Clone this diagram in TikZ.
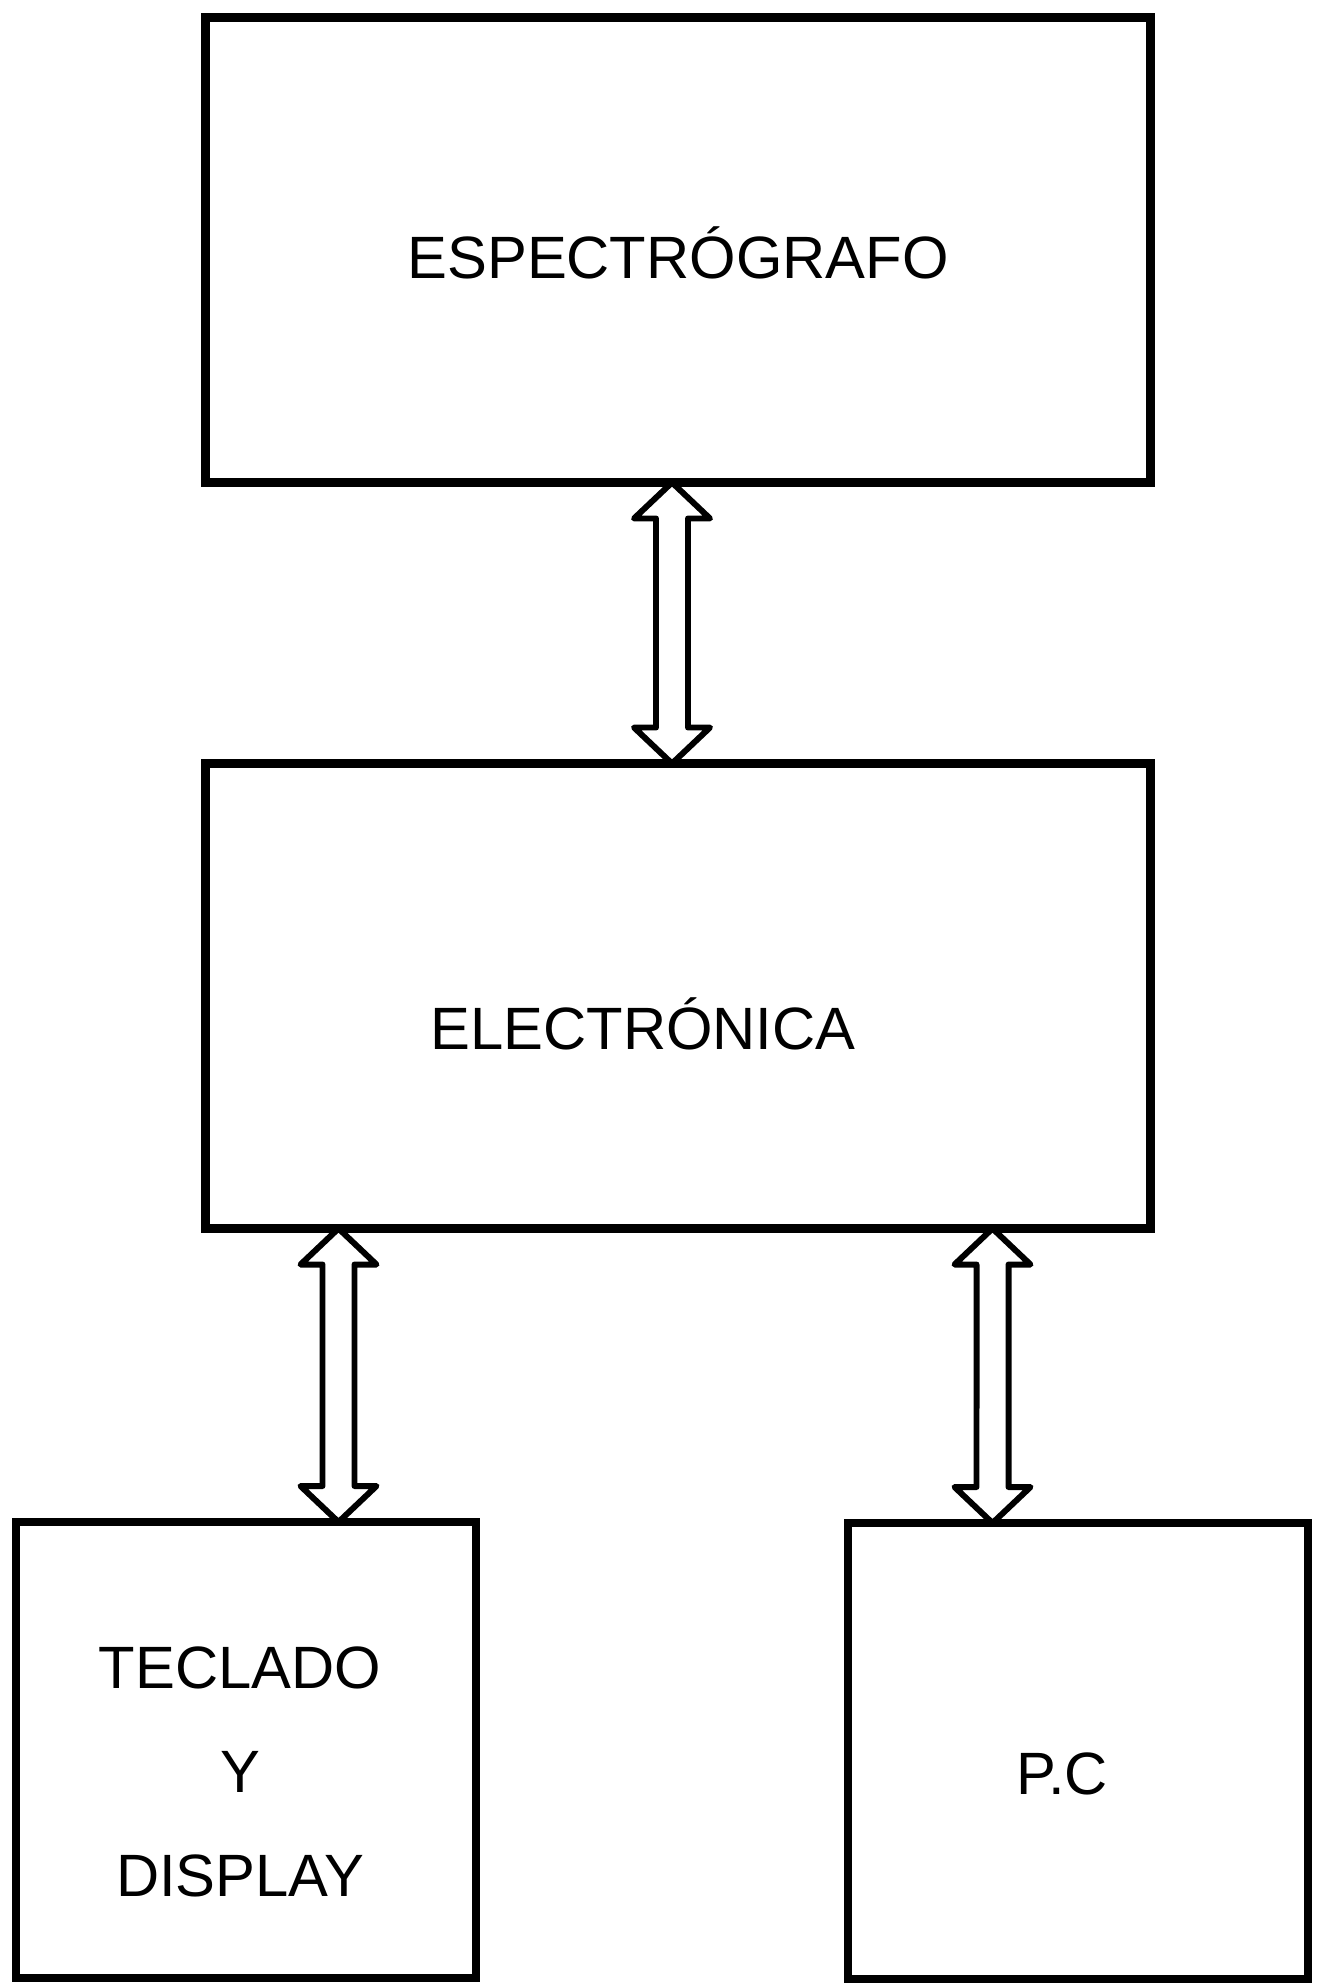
\documentclass[tikz,border=0pt]{standalone}
\usepackage{fontspec}
\setmainfont{Liberation Sans}
\usetikzlibrary{positioning, calc}

\tikzset{
  block/.style={rectangle, draw, line width=4.6pt, minimum width=18.9cm,
                minimum height=9.3cm, inner sep=0pt, outer sep=0pt},
  smallblock/.style={block, minimum width=9.2cm, minimum height=9.12cm},
  lbl/.style={font=\fontsize{34}{59}\selectfont, align=center, inner sep=0pt},
  busline/.style={draw, line width=3.4pt, line join=round},
}

% hollow double arrow, tip #1 on top, tip #2 below
\newcommand{\dblarrow}[2]{%
  \draw[busline] (#1) -- ++(-0.76,-0.72) -- ++(0.44,0)
    -- ($(#2)+(-0.32,0.72)$) -- ++(-0.44,0) -- (#2)
    -- ++(0.76,0.72) -- ++(-0.44,0)
    -- ($(#1)+(0.32,-0.72)$) -- ++(0.44,0) -- cycle;}

\begin{document}
\begin{tikzpicture}
\useasboundingbox (0,0) rectangle (26.5,-39.66);

% Blocks
\node[block] (spec) at (13.56,-5.0) {};
\node[block, below=5.62cm of spec] (elec) {};
\node[smallblock] (tec) at (4.92,-35.0) {};
\node[smallblock] (pc) at (21.56,-35.02) {};

% Labels
\node[lbl] (spec-txt) at ($(spec.center)+(0,-0.06)$) {ESPECTRÓGRAFO};
\node[lbl] (elec-txt) at ($(elec.center)+(-0.7,-0.56)$) {ELECTRÓNICA};
\node[lbl] (tec-txt) at ($(tec.center)+(-0.12,-0.44)$) {TECLADO\\Y\\DISPLAY};
\node[lbl] (pc-txt) at ($(pc.center)+(-0.32,-0.46)$) {P.C};

% Bus arrows
\path (spec.south) ++(-0.12,0) coordinate (a1t);
\coordinate (a1b) at (a1t |- elec.north);
\dblarrow{a1t}{a1b}

\path (elec.south west) ++(2.66,0) coordinate (a2t);
\coordinate (a2b) at (a2t |- tec.north);
\dblarrow{a2t}{a2b}

\path (elec.south west) ++(15.74,0) coordinate (a3t);
\coordinate (a3b) at (a3t |- pc.north);
\dblarrow{a3t}{a3b}

\end{tikzpicture}
\end{document}
